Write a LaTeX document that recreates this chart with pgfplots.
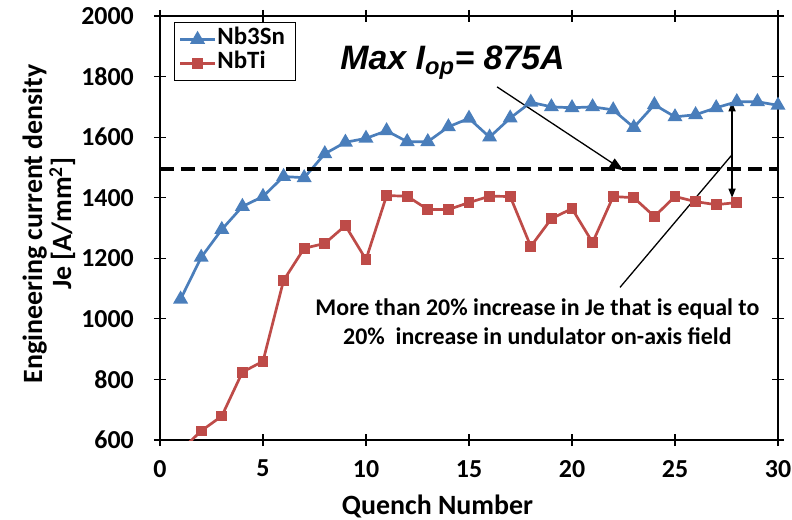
\documentclass[border=0pt]{standalone}
\usepackage{fontspec}
\setmainfont{Carlito}
\newfontfamily\arialfont{Liberation Sans}
\usepackage{pgfplots}
\pgfplotsset{compat=1.18}
\usetikzlibrary{arrows.meta}
\definecolor{nbsn}{RGB}{74,126,187}
\definecolor{nbti}{RGB}{190,75,72}

\begin{document}
\begin{tikzpicture}
\begin{axis}[
  scale only axis, width=618bp, height=424bp,
  xmin=0, xmax=30, ymin=600, ymax=2000,
  xtick={0,5,...,30}, ytick={600,800,...,2000},
  axis line style={line width=1.5bp},
  tick style={line width=1.2bp, black},
  tick align=center, major tick length=12bp,
  /pgf/number format/assume math mode=true,
  /pgf/number format/set thousands separator={},
  tick label style={font=\fontsize{26}{26}\selectfont\bfseries, inner sep=0pt},
  yticklabel={\pgfmathprintnumber{\tick}\hspace*{20bp}},
  xticklabel style={yshift=-14bp},
  xlabel={Quench Number},
  ylabel={Engineering current density\\Je [A/mm\textsuperscript{2}]},
  label style={font=\fontsize{28}{29}\selectfont\bfseries, inner sep=0pt},
  xlabel style={at={(axis description cs:0.449,0)}, anchor=base, yshift=-74bp},
  ylabel style={align=center, at={(axis description cs:-0.137,0.51)}, anchor=south},
  legend style={at={(0.023,0.986)}, anchor=north west, draw=black, line width=1bp,
    font=\fontsize{25}{25}\selectfont\bfseries, inner xsep=4bp, inner ysep=5bp,
    row sep=0bp, nodes={inner sep=1bp, text height=16bp, text depth=6bp}},
  legend cell align=left,
  legend image code/.code={\draw[mark repeat=2, mark phase=2, #1]
    plot coordinates {(0bp,0bp) (17.5bp,0bp) (35bp,0bp)};},
]
\addplot[color=nbsn, line width=2.7bp, mark=triangle*, mark size=6bp,
  mark options={solid}] coordinates {
  (1,1065) (2,1203) (3,1295) (4,1371) (5,1404) (6,1470) (7,1466) (8,1545)
  (9,1583) (10,1596) (11,1621) (12,1585) (13,1585) (14,1634) (15,1662)
  (16,1600) (17,1663) (18,1715) (19,1700) (20,1697) (21,1700) (22,1690)
  (23,1632) (24,1707) (25,1667) (26,1674) (27,1697) (28,1717) (29,1717)
  (30,1705)};
\addlegendentry{Nb3Sn\hspace*{6bp}}
\addplot[color=nbti, line width=2.7bp, mark=square*, mark size=4bp,
  mark options={solid}] coordinates {
  (1,565) (2,630) (3,679) (4,824) (5,860) (6,1127) (7,1233) (8,1249)
  (9,1308) (10,1196) (11,1407) (12,1405) (13,1361) (14,1361) (15,1384)
  (16,1405) (17,1404) (18,1239) (19,1331) (20,1364) (21,1252) (22,1404)
  (23,1400) (24,1338) (25,1404) (26,1387) (27,1377) (28,1384)};
\addlegendentry{NbTi}
\addplot[black, line width=3.3bp, dash pattern=on 14bp off 7bp, forget plot]
  coordinates {(0,1495) (30,1495)};

\node[anchor=base, font=\arialfont\fontsize{34}{34}\selectfont\bfseries\itshape]
  at (axis cs:14.2,1822) {Max I\textsubscript{op}= 875A};
\draw[-{Triangle[length=14bp, width=10bp]}, line width=1.3bp]
  (axis cs:16.36,1766) -- (axis cs:22.5,1490);
\draw[{Triangle[length=9bp, width=7bp]}-{Triangle[length=9bp, width=7bp]}, line width=1.3bp]
  (axis cs:27.77,1715) -- (axis cs:27.77,1400);
\draw[line width=1.3bp] (axis cs:22.33,1104) -- (axis cs:27.77,1542);
\node[anchor=base, font=\fontsize{24}{24}\selectfont\bfseries]
  at (axis cs:18.32,1012) {More than 20\% increase in Je that is equal to};
\node[anchor=base, font=\fontsize{24}{24}\selectfont\bfseries]
  at (axis cs:18.32,916) {20\%\ \ increase in undulator on-axis field};
\end{axis}
\pgfresetboundingbox
\useasboundingbox ([xshift=-160bp,yshift=-80bp]current axis.south west)
  rectangle ([xshift=14bp,yshift=16bp]current axis.north east);
\end{tikzpicture}
\end{document}
